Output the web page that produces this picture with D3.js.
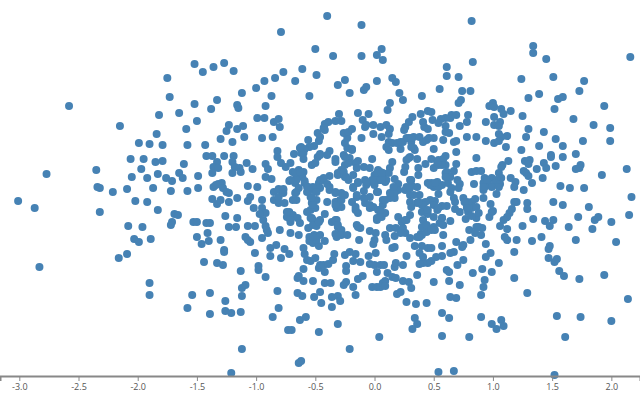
<!DOCTYPE html>
<html><head><meta charset="utf-8">
<script src="https://cdnjs.cloudflare.com/ajax/libs/d3/7.8.5/d3.min.js"></script>
<style>
html,body{margin:0;padding:0;background:#fff;overflow:hidden}
svg{display:block}
.axis text{font-family:"Open Sans",sans-serif;font-size:9px;fill:#555}
.axis path,.axis line{stroke:#888;fill:none}
.axis path{stroke-width:2px}
.axis line{stroke-width:1px}
</style></head><body>
<svg id="c" width="640" height="400"></svg>
<script>
const xDomain=[-3.163,2.242];
const yDomain=[-1.88,1.88];
const xTicks=[-3,-2.5,-2,-1.5,-1,-0.5,0,0.5,1,1.5,2];
const pointsLeftUpper=[[-1.52,1.24],[-1.45,1.16],[-1.36,1.21],[-1.75,1.10],[-1.73,.91],[-2.58,.82],[-1.52,.84],[-1.33,.88],[-1.38,.79],[-1.82,.73],[-1.65,.75],[-1.50,.67],[-1.59,.59],[-2.15,.62],[-1.84,.54],[-1.99,.45],[-1.90,.44],[-1.79,.43],[-1.58,.43],[-1.43,.43],[-1.30,.49],[-2.06,.29],[-1.95,.29],[-1.85,.26],[-1.79,.27],[-1.61,.24],[-1.42,.32],[-1.37,.32],[-1.33,.26],[-1.36,.21],[-1.32,.20],[-1.37,.15],[-1.97,.19],[-1.83,.14],[-1.65,.15],[-1.62,.10],[-1.49,.12],[-2.77,.14],[-2.35,.18],[-2.05,.11],[-1.92,.10],[-1.76,.10],[-1.71,.07],[-2.34,.01],[-2.32,0],[-2.21,-.04],[-2.09,-.01],[-1.87,0],[-1.72,-.03],[-1.58,-.03],[-1.49,0],[-1.36,.01],[-1.32,.04]];
const pointsLeftLower=[[-3.01,-.13],[-2.87,-.20],[-2.83,-.79],[-2.32,-.24],[-2.02,-.13],[-1.92,-.14],[-1.83,-.22],[-1.37,-.11],[-1.33,-.16],[-1.30,-.12],[-1.69,-.26],[-1.66,-.27],[-1.71,-.34],[-1.72,-.37],[-1.53,-.34],[-1.50,-.34],[-1.42,-.35],[-1.39,-.35],[-2.08,-.38],[-1.96,-.39],[-1.41,-.45],[-2.03,-.51],[-1.99,-.54],[-1.89,-.51],[-1.50,-.49],[-1.40,-.53],[-1.46,-.56],[-1.30,-.52],[-2.09,-.66],[-2.16,-.70],[-1.44,-.74],[-1.33,-.75],[-1.90,-.95],[-1.90,-1.07],[-1.54,-1.07],[-1.39,-1.05],[-1.58,-1.20],[-1.39,-1.26]];
const pointsMidUpper=[[-.79,1.56],[-.40,1.72],[-.11,1.63],[-.50,1.39],[-.35,1.32],[-.11,1.32],[.06,1.39],[.02,1.33],[.07,1.28],[-1.27,1.25],[-1.19,1.17],[-.77,1.16],[-.61,1.19],[-.49,1.13],[-.84,1.10],[-.93,1.07],[-1.00,1.00],[-.67,1.07],[-1.12,.95],[-.87,.92],[-.55,.92],[-.31,1.03],[-.25,1.08],[-.21,.95],[-.09,.98],[-.07,1.01],[.02,1.07],[.15,1.10],[.18,1.06],[.21,.95],[.24,.88],[.40,.92],[.13,.85],[.11,.78],[-1.16,.83],[-1.15,.80],[-.92,.82],[.45,.77],[.39,.74],[-.14,.75],[-.05,.74],[-.30,.74],[-.99,.70],[-.93,.70],[-.81,.69],[-.85,.66],[-.80,.61],[-1.23,.63],[-1.25,.57],[-1.11,.62],[-1.16,.59],[-1.10,.51],[-1.20,.46],[-.95,.50],[-.86,.51],[-.28,.67],[-.33,.67],[-.39,.66],[-.42,.64],[-.43,.60],[-.48,.55],[-.42,.58],[-.46,.51],[-.56,.48],[-.47,.47],[-.51,.42],[-.55,.41],[-.62,.41],[-.59,.39],[-.68,.34],[-.62,.35],[-.60,.29],[-.82,.37],[-.82,.31],[-.79,.25],[-.75,.21],[-.71,.25],[-1.08,.25],[-1.03,.19],[-.92,.24],[-.90,.19],[-.92,.11],[-.87,.09],[-1.27,.32],[-1.19,.32],[-1.20,.26],[-1.18,.21],[-1.14,.20],[-1.13,.16],[-1.20,.15],[-1.29,.05],[-1.34,.03],[-1.07,.02],[-.99,.01],[-.72,.07],[-.81,-.01],[-.77,-.01],[-.69,.16],[-.64,.18],[-.60,.16],[-.66,.11],[-.61,.11],[-.67,.05],[-.59,.05],[-.57,.01],[-.52,.01],[-.47,.05],[-.43,.08],[-.38,.12],[-.40,.04],[-.53,.23],[-.50,.25],[-.48,.31],[-.46,.34],[-.38,.37],[-.40,.33],[-.33,.29],[-.33,.26],[-.26,.33],[-.23,.40],[-.19,.39],[-.25,.45],[-.23,.50],[-.26,.55],[-.22,.56],[-.19,.59],[-.11,.50],[-.01,.54],[.06,.51],[-.08,.61],[-.10,.68],[-.07,.63],[-.01,.63],[.05,.61],[.10,.63],[.13,.59],[.12,.54],[.26,.61],[.25,.58],[.29,.66],[.32,.71],[.41,.66],[.42,.61],[.45,.59],[.12,.46],[.15,.45],[.10,.41],[.12,.38],[.19,.45],[.22,.39],[.24,.46],[.29,.50],[.31,.46],[.33,.51],[.38,.51],[.41,.46],[.44,.48],[.33,.40],[.30,.31],[.34,.38],[.36,.29],[.27,.28],[.26,.21],[.25,.16],[.37,.20],[.43,.24],[.37,.13],[.15,.26],[.13,.20],[-.02,.29],[-.09,.21],[-.04,.20],[-.14,.27],[-.21,.30],[-.16,.25],[-.25,.23],[-.28,.18],[-.31,.13],[-.25,.11],[-.22,.08],[-.18,.13],[-.15,.20],[-.14,.06],[-.18,.01],[.03,.18],[.05,.16],[0,.13],[.07,.11],[.03,.08],[-.02,.06],[-.08,.08],[.09,.06],[-.07,.03],[0,.03],[.17,.09],[.20,.04],[.30,.08],[.31,.03],[.27,.01],[.36,.01],[.45,.05]];
const pointsRightUpper=[[.82,1.67],[1.34,1.42],[1.34,1.35],[1.45,1.29],[2.16,1.31],[.83,1.26],[.61,1.21],[.61,1.12],[.71,1.11],[1.24,1.09],[1.51,1.11],[1.77,1.07],[.55,.99],[.74,.97],[.81,.97],[1.73,.97],[1.30,.90],[1.39,.94],[1.55,.89],[1.59,.91],[.73,.88],[.71,.85],[1.94,.82],[1.52,.79],[1.00,.85],[.97,.82],[1.01,.81],[1.07,.79],[1.09,.74],[1.15,.77],[1.25,.72],[1.68,.69],[.48,.76],[.79,.73],[.69,.73],[.65,.73],[.64,.70],[.60,.70],[.56,.69],[.49,.68],[.54,.65],[.78,.66],[.72,.62],[.60,.62],[1.01,.71],[.94,.66],[1.06,.66],[1.01,.63],[1.05,.62],[1.85,.63],[1.99,.60],[1.30,.59],[1.43,.56],[1.05,.54],[1.12,.52],[1.07,.51],[1.28,.51],[.78,.51],[.86,.51],[.94,.47],[1.01,.45],[1.05,.47],[.60,.56],[.63,.55],[.58,.48],[.50,.50],[.46,.50],[.67,.46],[.69,.47],[1.53,.49],[1.76,.47],[1.99,.47],[1.39,.42],[1.59,.42],[1.11,.41],[1.24,.38],[.50,.39],[.69,.36],[1.49,.33],[1.49,.31],[1.59,.31],[1.70,.34],[.60,.32],[.48,.29],[.54,.28],[.58,.29],[.86,.30],[1.13,.27],[1.08,.23],[1.07,.21],[1.27,.27],[1.31,.28],[1.30,.24],[.54,.23],[.60,.23],[.69,.24],[.50,.20],[1.43,.25],[1.45,.20],[1.53,.22],[1.74,.23],[1.73,.20],[1.70,.19],[2.13,.19],[1.37,.19],[1.26,.17],[1.28,.15],[1.30,.12],[1.92,.13],[1.42,.10],[.82,.16],[.86,.17],[.90,.17],[.67,.17],[.60,.15],[.61,.11],[.70,.08],[.62,.05],[.72,.04],[.84,.04],[1.15,.10],[1.19,.06],[1.05,.15],[1.07,.10],[.93,.10],[.99,.10],[1.03,.08],[.92,.05],[.96,.04],[1.02,.05],[1.06,.04],[.99,.01],[1.05,.01],[.93,.01],[1.33,.05],[1.18,.01],[1.26,-.02],[1.57,.02],[1.65,0],[1.77,0],[.53,.06],[.48,.05],[.57,.03],[.50,.01],[.54,.01],[.65,0]];
const pointsRightLower=[[2.17,-.09],[2.15,-.27],[1.03,-.06],[1.51,-.14],[1.59,-.17],[1.81,-.19],[1.20,-.14],[1.18,-.14],[1.29,-.15],[1.29,-.21],[1.72,-.29],[1.89,-.29],[1.86,-.32],[2.00,-.34],[1.44,-.33],[1.51,-.32],[1.34,-.31],[1.48,-.38],[1.64,-.39],[1.84,-.41],[1.25,-.38],[1.16,-.21],[1.14,-.25],[1.12,-.29],[1.09,-.32],[1.06,-.38],[1.12,-.41],[1.70,-.52],[2.04,-.54],[1.41,-.49],[1.33,-.53],[1.20,-.52],[1.12,-.52],[1.10,-.49],[1.48,-.58],[1.47,-.61],[1.18,-.64],[1.47,-.70],[1.54,-.71],[1.52,-.74],[1.05,-.75],[1.56,-.83],[1.60,-.88],[1.73,-.91],[1.94,-.87],[1.18,-.90],[2.14,-1.11],[1.29,-1.05],[1.54,-1.28],[1.74,-1.29],[2.00,-1.33],[1.61,-1.49],[1.52,-1.87],[.90,-1.29],[.99,-1.36],[1.07,-1.32],[1.09,-1.38],[1.03,-1.41],[.80,-1.49],[.57,-1.48],[.54,-1.84],[.67,-1.83],[.57,-1.25],[.63,-1.30],[.64,-1.09],[.69,-1.10],[.90,-1.07],[.92,-.99],[.93,-.92],[.72,-.97],[.63,-.93],[.50,-.94],[.83,-.85],[.91,-.81],[.99,-.84],[.61,-.82],[.63,-.84],[.70,-.77],[.75,-.72],[.98,-.65],[.94,-.69],[.94,-.56],[.69,-.54],[.57,-.58],[.48,-.60],[.40,-.58],[.74,-.59],[.75,-.57],[.67,-.64],[.64,-.65],[.57,-.68],[.52,-.69],[.48,-.73],[.45,-.75],[.41,-.75],[.38,-.76],[.41,-.69],[.38,-.65],[.58,-.47],[.80,-.42],[.81,-.52],[.85,-.45],[.90,-.47],[.88,-.39],[.91,-.40],[.86,-.30],[.88,-.25],[.97,-.29],[.99,-.24],[1.00,-.23],[.98,-.16],[.77,-.31],[.72,-.24],[.68,-.21],[.75,-.10],[.78,-.14],[.82,-.14],[.85,-.11],[.92,-.10],[.78,-.18],[.82,-.19],[.79,-.24],[.82,-.28],[.67,-.10],[.68,-.14],[.64,-.04],[.54,-.06],[.51,-.13],[.47,-.12],[.43,-.14],[.40,-.17],[.50,-.17],[.53,-.22],[.61,-.18],[.57,-.18],[.45,-.26],[.41,-.32],[.50,-.29],[.57,-.30],[.64,-.33],[.55,-.35],[.58,-.37],[.50,-.39],[.51,-.42],[.43,-.39],[.44,-.44],[.40,-.47],[.40,-.39],[.71,0],[.92,-.02]];
const pointsMidLower=[[-1.21,-1.85],[-1.12,-1.61],[-.64,-1.75],[-.62,-1.73],[-.21,-1.61],[.04,-1.49],[-.47,-1.44],[-.31,-1.36],[-.73,-1.42],[-.70,-1.42],[-.63,-1.32],[-.58,-1.29],[-.86,-1.29],[-.81,-1.20],[-1.13,-1.24],[-1.21,-1.25],[-1.26,-1.23],[-1.26,-1.13],[-1.12,-1.08],[-1.12,-1.00],[-1.09,-.97],[-.82,-1.03],[-.65,-1.05],[-.61,-1.08],[-.51,-1.09],[-.46,-1.04],[-.45,-1.15],[-.36,-1.19],[-.36,-1.09],[-.31,-1.08],[-.29,-1.13],[-.16,-1.07],[-.18,-.99],[-.26,-.97],[-.24,-.94],[-.42,-.95],[-.37,-.95],[-.52,-.93],[-.65,-.90],[-.64,-.88],[-.60,-.93],[-.14,-.91],[-.10,-.88],[-.02,-.99],[.02,-.99],[.05,-.99],[.07,-.95],[.09,-.93],[.09,-.98],[.19,-1.06],[.22,-1.04],[.24,-.93],[.29,-.94],[.31,-1.00],[.36,-.87],[.27,-1.14],[.35,-1.16],[.44,-1.15],[.34,-1.30],[.36,-1.36],[.32,-1.41],[-1.13,-.83],[-.98,-.78],[-.98,-.82],[-.92,-.89],[-.60,-.81],[-1.28,-.77],[-1.01,-.65],[-1.27,-.62],[-1.27,-.64],[-1.05,-.54],[-1.07,-.52],[-1.09,-.49],[-.95,-.50],[-.88,-.68],[-.88,-.60],[-.83,-.57],[-.79,-.70],[-.76,-.61],[-.72,-.66],[-.60,-.60],[-.59,-.66],[-.57,-.72],[-.54,-.73],[-.50,-.70],[-.46,-.77],[-.47,-.80],[-.42,-.84],[-.43,-.77],[-.39,-.76],[-.35,-.72],[-.34,-.66],[-.25,-.67],[-.21,-.64],[-.16,-.66],[-.18,-.73],[-.12,-.74],[-.24,-.78],[-.24,-.83],[-.05,-.68],[.01,-.65],[-.04,-.76],[0,-.77],[.05,-.77],[.08,-.77],[.02,-.84],[.11,-.85],[.15,-.89],[.18,-.90],[.17,-.79],[.18,-.75],[.24,-.77],[.27,-.68],[.45,-.60],[.34,-.58],[-.80,-.42],[-.71,-.45],[-.64,-.47],[-1.07,-.38],[-1.01,-.38],[-.92,-.38],[-.91,-.42],[-.90,-.45],[-1.26,-.28],[-1.16,-.30],[-1.23,-.39],[-1.17,-.39],[-.95,-.12],[-1.02,-.20],[-.95,-.20],[-.92,-.25],[-.97,-.26],[-.94,-.32],[-1.05,-.09],[-1.07,-.13],[-1.16,-.10],[-1.23,-.05],[-1.23,-.14],[-1.28,0],[-1.25,-.04],[-.85,-.04],[-.80,-.02],[-.85,-.12],[-.81,-.09],[-.77,-.05],[-.81,-.15],[-.76,-.15],[-.66,-.04],[-.66,-.12],[-.69,-.12],[-.64,0],[-.72,-.24],[-.69,-.27],[-.65,-.30],[-.74,-.29],[-.71,-.34],[-.63,-.35],[-.56,-.40],[-.54,-.30],[-.52,-.32],[-.46,-.32],[-.49,-.38],[-.42,-.26],[-.54,-.22],[-.57,-.24],[-.50,-.20],[-.53,-.15],[-.49,-.12],[-.54,-.09],[-.57,-.04],[-.52,-.02],[-.46,0],[-.40,-.14],[-.33,-.14],[-.29,-.12],[-.32,-.20],[-.28,-.19],[-.38,-.02],[-.33,-.04],[-.28,-.05],[-.25,-.07],[-.18,0],[-.15,-.09],[-.19,-.14],[-.16,-.22],[-.14,-.25],[-.09,-.03],[-.04,-.09],[.02,-.04],[-.08,-.15],[-.04,-.20],[-.01,-.19],[.07,-.17],[.03,-.22],[.09,-.25],[.05,-.27],[.02,-.32],[.13,-.10],[.17,-.10],[.15,-.04],[.20,-.02],[.26,-.02],[.30,-.07],[.38,-.07],[.30,-.14],[.36,-.15],[.41,-.15],[.31,-.19],[.40,-.24],[.20,-.29],[.23,-.34],[.27,-.32],[.30,-.27],[.44,-.25],[.13,-.40],[.18,-.40],[.24,-.40],[.17,-.48],[.09,-.47],[.10,-.52],[.26,-.45],[.30,-.50],[.36,-.49],[.39,-.46],[.17,-.59],[.15,-.60],[-.04,-.43],[.01,-.45],[0,-.52],[-.01,-.56],[-.13,-.52],[-.15,-.37],[-.12,-.40],[-.32,-.32],[-.36,-.34],[-.31,-.39],[-.28,-.42],[-.33,-.46],[-.28,-.47],[-.23,-.47],[-.55,-.49],[-.55,-.53],[-.51,-.47],[-.46,-.47],[-.52,-.55],[-.47,-.58],[-.42,-.53],[-.49,-.52]];
const pointsCore=[[-.52,0],[-.56,.01],[-.46,.08],[-.43,.10],[-.49,-.04],[-.38,.01],[-.33,-.05],[-.31,-.14],[-.33,-.17],[-.28,-.12],[-.53,-.10],[-.52,-.17],[-.67,.15],[-.63,.16],[-.66,.08],[-.59,.07],[-.71,.08],[.02,.15],[-.02,.08],[.05,.08],[.07,.15],[-.07,.06],[-.14,.05],[-.15,-.07],[-.09,-.10],[-.04,-.17],[-.16,-.19],[.02,-.30],[.05,-.22],[.07,-.12],[.03,-.04],[.10,.08],[-.31,.15],[-.26,.16],[-.22,.25],[-.24,.11],[-.25,.31],[-.19,.38],[-.60,.35],[-.63,.40],[-.46,.33],[-.52,-.37],[-.53,-.30],[-.47,-.34],[-.74,-.24],[-.71,-.32],[-.77,-.02],[-.67,-.05],[-.33,-.32],[-.31,-.37],[-.14,-.39],[-.32,-.49],[-.52,-.49],[.27,.50],[.31,.50],[.22,.46],[.31,.41],[.29,.30],[.12,.15],[.06,.15],[.06,.08],[.17,-.05],[.13,-.05],[.16,.01],[.09,-.12],[.31,.08],[.30,0],[.33,-.07],[.47,.03],[.51,.05],[.57,.23],[.53,.25],[.61,.16],[.64,.11],[.60,.11],[.41,-.17],[.37,-.14],[.54,-.20],[.45,-.22],[.79,-.15],[.82,-.20],[.76,-.14],[.86,-.19],[.78,-.20],[.06,-.29],[.26,-.32],[.22,-.45],[.38,-.49],[.44,-.37],[.48,-.42],[.57,-.30],[.95,.08],[.92,.01],[.86,-.39]];

const points=[...pointsLeftUpper,...pointsLeftLower,...pointsMidUpper,...pointsMidLower,...pointsRightUpper,...pointsRightLower,...pointsCore];
const svg=d3.select("#c");
const x=d3.scaleLinear().domain(xDomain).range([0,640]);
const y=d3.scaleLinear().domain(yDomain).range([376,0]);
svg.append("g").selectAll("circle").data(points).join("circle")
  .attr("cx",d=>x(d[0])).attr("cy",d=>y(d[1])).attr("r",4).attr("fill","steelblue");
const ax=svg.append("g").attr("class","axis").attr("transform","translate(0,376)")
  .call(d3.axisBottom(x).tickValues(xTicks).tickFormat(d3.format(".1f")).tickSizeOuter(0).tickSize(5).tickPadding(3));
ax.selectAll("text").text(d=>d3.format(".1f")(d).replace("\u2212","-"));
</script></body></html>
